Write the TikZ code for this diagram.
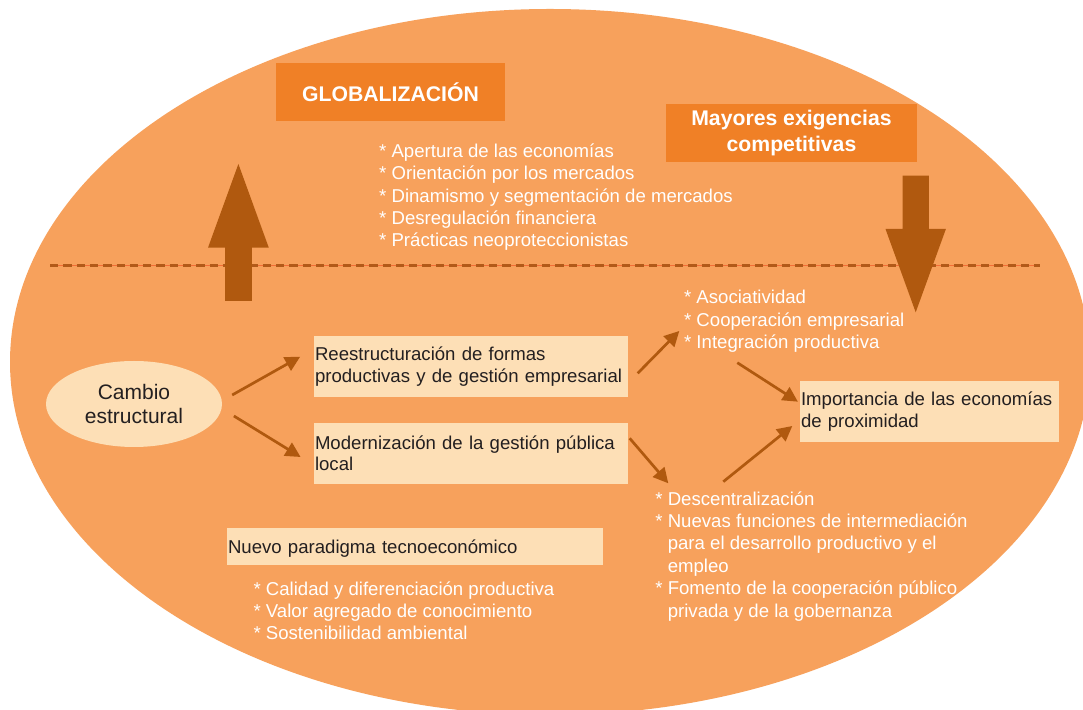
\documentclass[tikz,border=0pt]{standalone}
\usepackage{fontspec}
\setmainfont{Liberation Sans}
\usepackage{xcolor}
\usepackage{tikz}
\usetikzlibrary{shapes.geometric}
\usetikzlibrary{positioning}
\usetikzlibrary{calc}
\usetikzlibrary{arrows.meta}
\tikzset{>=stealth}
\definecolor{fondo}{RGB}{247,161,92}
\definecolor{naranja}{RGB}{240,128,38}
\definecolor{crema}{RGB}{253,223,182}
\definecolor{flecha}{RGB}{176,89,15}
\definecolor{guion}{RGB}{242,110,55}
\definecolor{trazo}{RGB}{178,90,25}
\definecolor{tinta}{RGB}{35,31,32}

\begin{document}
\begin{tikzpicture}[x=0.5pt, y=-0.5pt,
      auto,
      cloud/.style={draw=none,
      ellipse,
      fill=crema,
      text=tinta,
      inner sep=0pt,
      minimum width=88pt, minimum height=43pt,
      align=center,
      font=\fontsize{10.5}{12.35}\selectfont},
      titlebox/.style={fill=naranja, text=white, inner sep=0pt, align=center,
      font=\bfseries\fontsize{10.6}{13}\selectfont},
      lightbox/.style={fill=crema, text=tinta, inner xsep=0.5pt, inner ysep=0pt,
      align=left, minimum height=30.5pt, font=\fontsize{9.3}{10.8}\selectfont},
      items/.style={text=white, inner sep=0pt, anchor=north west, align=left,
      font=\fontsize{9.3}{11.2}\selectfont},
      line/.style={draw=flecha, line width=1.35pt, -{Triangle[length=7.5pt,width=7.5pt]}}]
    \useasboundingbox (0,0) rectangle (1083,710);
    \fill [white] (0,0) rectangle (1083,710);
    \clip (0,0) rectangle (1083,710);
    %% Fondo
    \fill [fondo] (550,362) ellipse [x radius=540, y radius=353];
    \draw [line width=0.75pt, draw=guion] (50,265.7) -- (1040,265.7);
    \draw [line width=1.5pt, draw=trazo, dash pattern=on 4.15pt off 2.5pt] (50,265.7) -- (1040,265.7);
    %% Flechas grandes
    \fill [flecha] (225,301) -- (225,247.7) -- (208,247.7) -- (238.4,164) -- (268.8,247.7)
      -- (251.8,247.7) -- (251.8,301) -- cycle;
    \fill [flecha] (902.6,175.7) -- (902.6,229) -- (885.5,229) -- (915.7,312.3)
      -- (945.9,229) -- (928.8,229) -- (928.8,175.7) -- cycle;
    %% Nodos
    \node [titlebox, minimum width=114.5pt, minimum height=28.85pt] (glob) at (390.5,91.9) {GLOBALIZACIÓN};
    \node [titlebox, minimum width=125.5pt, minimum height=29pt] (exig) at (791.5,133) {Mayores exigencias\\competitivas};
    \node [items] (globlist) at (378.8,143.3) {* Apertura de las economías\\* Orientación por los mercados\\* Dinamismo y segmentación de mercados\\* Desregulación financiera\\* Prácticas neoproteccionistas};
    \node [cloud] (cambio) at (134,404) {Cambio\\estructural};
    \node [lightbox, text width=156pt] (reest) at (471,366.5) {Reestructuración de formas\\productivas y de gestión empresarial};
    \node [lightbox, text width=156pt] (modern) at (471,453.3) {Modernización de la gestión pública\\local};
    \node [items] (asoclist) at (683.7,290) {* Asociatividad\\* Cooperación empresarial\\* Integración productiva};
    \node [lightbox, text width=128.5pt] (imp) at (929.5,411.4) {Importancia de las economías\\de proximidad};
    \node [items] (desclist) at (655,491) {* Descentralización\\* Nuevas funciones de intermediación\\\hphantom{* }para el desarrollo productivo y el\\\hphantom{* }empleo\\* Fomento de la cooperación público\\\hphantom{* }privada y de la gobernanza};
    \node [lightbox, text width=187pt, minimum height=18.35pt, text depth=0pt] (paradigma) at (415,546.7) {Nuevo paradigma tecnoeconómico};
    \node [items] (paralist) at (253.1,581) {* Calidad y diferenciación productiva\\* Valor agregado de conocimiento\\* Sostenibilidad ambiental};
    %% Relaciones
    \path [line] ([shift={(9.8,-9)}]cambio.east) -- ([shift={(-13.4,-9.8)}]reest.west);
    \path [line] ([shift={(11.5,12)}]cambio.east) -- ([shift={(-13,3.7)}]modern.west);
    \path [line] ([shift={(9.3,6.8)}]reest.east) -- ([shift={(-4.4,41)}]asoclist.north west);
    \path [line] ([shift={(53.6,72.7)}]asoclist.north west) -- ([shift={(-1.7,-9.7)}]imp.west);
    \path [line] ([shift={(1.3,-15)}]modern.east) -- ([shift={(13.3,-7.7)}]desclist.north west);
    \path [line] ([shift={(68.3,-9.3)}]desclist.north west) -- ([shift={(-7.3,14.6)}]imp.west);
  \end{tikzpicture}
\end{document}
